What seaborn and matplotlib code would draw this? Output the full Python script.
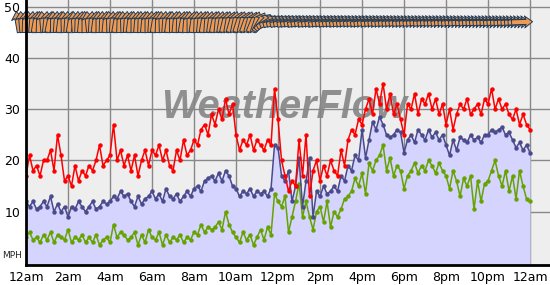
import numpy as np
import pandas as pd
import matplotlib
matplotlib.use("Agg")
import matplotlib.pyplot as plt
import seaborn as sns

# ---- data (10-minute readings, 12am .. 12am) ----
gust = [17, 21, 18, 19, 17, 20,
        20, 22, 18, 25, 21, 16,
        17, 15, 19, 16, 18, 17,
        19, 18, 20, 23, 19, 20,
        21, 27, 20, 22, 19, 21,
        18, 21, 17, 20, 22, 19,
        22, 21, 23, 20, 22, 19,
        18, 22, 20, 24, 21, 22,
        24, 23, 26, 27, 25, 29,
        27, 30, 28, 32, 29, 31,
        25, 22, 24, 23, 25, 22,
        24, 23, 22, 24, 23, 34,
        28, 20, 17, 14, 16, 15,
        24, 17, 25, 13, 18, 20,
        16, 19, 17, 20, 18, 17,
        22, 19, 24, 26, 25, 28,
        27, 30, 32, 29, 34, 31,
        35, 30, 33, 29, 31, 28,
        25, 31, 30, 33, 29, 32,
        31, 33, 30, 32, 29, 31,
        27, 30, 26, 29, 31, 30,
        32, 29, 30, 31, 29, 32,
        31, 34, 30, 32, 30, 31,
        29, 28, 30, 27, 29, 27,
        26]

avg = [12, 11, 12, 10.5, 11, 12,
       11, 13, 10, 11.5, 10, 11,
       9, 11, 10.5, 12, 11, 10,
       11, 12, 10.5, 11, 12, 11.5,
       12, 13, 12.5, 14, 13, 13.5,
       12, 11, 13, 11.5, 12.5, 13,
       14, 12.5, 13.5, 12, 14.5, 13,
       12.5, 13.5, 12, 13, 14, 13,
       14.5, 15, 14, 16, 16.5, 17,
       16, 17.5, 16, 18, 17, 15,
       14.5, 13, 14, 13.5, 14.5, 13,
       14, 13.5, 14, 13, 14.5, 23,
       22.5, 17, 16, 18, 12, 15,
       20.5, 11, 16, 20.5, 9, 14,
       13, 15, 13.5, 14, 15, 14,
       17, 16, 19, 18, 21, 20,
       26, 20.5, 24, 27.5, 26, 28.5,
       27, 25, 24.5, 25, 26, 25.5,
       21.5, 24, 25, 23.5, 26, 25,
       24, 26, 24.5, 25.5, 24, 25,
       23, 21, 24, 22, 24.5, 24,
       23.5, 25, 24, 24.5, 23.5, 25,
       25, 26, 25.5, 26, 26.5, 25,
       25.5, 24, 22.5, 23.5, 22, 23,
       21.5]

lull = [5, 6, 4.5, 5, 4, 5.5,
        4.5, 6, 4, 5.5, 5, 4.5,
        6.5, 4, 5, 4.5, 5.5, 4,
        5, 4, 5.5, 3.5, 4.5, 5,
        4, 7.5, 5, 6, 5.5, 4.5,
        5, 6, 3.5, 5.5, 4, 6.5,
        5, 4.5, 6, 3.5, 5.5, 4,
        5, 4.5, 5.5, 4, 5, 4.5,
        6, 5.5, 7.5, 6, 7, 6.5,
        7, 8, 6.5, 10, 7.5, 6,
        5, 4, 6, 4.5, 5.5, 3.5,
        5, 6.5, 4.5, 7, 5.5, 13.5,
        12, 11, 13, 6, 9, 12,
        15.5, 9, 12, 9, 6.5, 10,
        11, 8, 12, 7, 10, 9,
        10.5, 12.5, 13, 14, 16.5, 15,
        17.5, 13.5, 19.5, 18, 20, 21,
        23, 18, 20.5, 17, 19, 18,
        14.5, 17, 18, 19.5, 17.5, 19,
        18, 20, 19, 17.5, 19.5, 18,
        17, 14.5, 18, 16, 13, 16.5,
        15, 17, 10.5, 16, 12, 15.5,
        16, 18, 20, 17, 15, 18,
        14, 17, 12.5, 18, 15, 12.5,
        12]

# direction the wind arrows point (screen degrees, 0 = right, 90 = up)
wind_angle = [100, 95, 88, 92, 85, 80,
              88, 95, 84, 78, 90, 86,
              82, 92, 86, 80, 94, 88,
              84, 90, 96, 86, 82, 90,
              88, 84, 92, 86, 80, 88,
              92, 86, 82, 90, 85, 88,
              84, 90, 86, 80, 88, 92,
              86, 82, 90, 84, 88, 80,
              85, 90, 82, 88, 84, 80,
              86, 82, 78, 84, 80, 76,
              80, 74, 78, 72, 76, 70,
              74, 68, 72, 60, 45, 30,
              20, 18, 15, 17, 14, 16,
              15, 13, 16, 14, 12, 15,
              14, 12, 15, 13, 12, 14,
              13, 12, 14, 12, 13, 11,
              12, 11, 13, 12, 10, 12,
              11, 10, 12, 11, 10, 11,
              10, 9, 11, 10, 9, 10,
              9, 8, 10, 9, 8, 9,
              8, 9, 7, 8, 9, 7,
              8, 6, 7, 8, 6, 7,
              6, 7, 5, 6, 7, 5,
              5, 6, 4, 5, 4, 3,
              2]

hour_ticks = list(range(0, 25, 2))
hour_labels = ["12am", "2am", "4am", "6am", "8am", "10am", "12pm",
               "2pm", "4pm", "6pm", "8pm", "10pm", "12am"]
y_ticks = [10, 20, 30, 40, 50]

minutes = np.arange(0, 1441, 10)
df = pd.DataFrame({"hour": minutes / 60.0, "gust": gust, "avg": avg, "lull": lull})

sns.set_style("white", {"axes.facecolor": "#eeeeee"})
plt.rcParams["font.family"] = ["DejaVu Sans"]

fig = plt.figure(figsize=(5.5, 2.85), dpi=100)
fig.patch.set_facecolor("white")
ax = fig.add_axes([26 / 550, 20 / 285, 524 / 550, 265 / 285])
ax.set_facecolor("#eeeeee")
ax.set_xlim(0, 24.95)
ax.set_ylim(-0.4, 51.3)

ax.set_axisbelow(True)
ax.grid(True, color="#888888", lw=1.0, zorder=0)

ax.fill_between(df["hour"], df["avg"], -0.4, color="#d4d4ff", lw=0, zorder=1)

ax.text(12.3, 30.4, "WeatherFlow", family=["Liberation Sans", "DejaVu Sans"],
        fontsize=28.5, fontweight="bold", fontstyle="italic", color="#858585",
        alpha=0.9, ha="center", va="center", zorder=2)

sns.lineplot(data=df, x="hour", y="lull", ax=ax, color="#66a300", lw=1.1,
             marker="o", markersize=3.2, markeredgewidth=0, zorder=3)
sns.lineplot(data=df, x="hour", y="avg", ax=ax, color="#4a4a8c", lw=1.1,
             marker="o", markersize=3.2, markeredgewidth=0, zorder=4)
sns.lineplot(data=df, x="hour", y="gust", ax=ax, color="#ff0000", lw=1.1,
             marker="o", markersize=3.2, markeredgewidth=0, zorder=5)

# wind direction arrows along the top
ang = np.deg2rad(np.array(wind_angle, dtype=float))
L = 21.0
q = ax.quiver(df["hour"] - 0.38, np.full(len(df), 47.0),
              L * np.cos(ang), L * np.sin(ang),
              angles="uv", units="dots", scale_units="dots", scale=1,
              pivot="middle", width=5, headwidth=2.4, headlength=1.6,
              headaxislength=1.3, facecolor="#ef9a52", edgecolor="#1d3b5a",
              linewidth=0.7, zorder=6)
q.set_clip_on(False)

ax.set_xticks(hour_ticks)
ax.set_xticklabels(hour_labels)
ax.set_yticks(y_ticks)
ax.tick_params(axis="both", length=0, labelsize=9, colors="black")
ax.tick_params(axis="x", pad=4)
ax.tick_params(axis="y", pad=4)
ax.set_xlabel("")
ax.set_ylabel("")

for s in ["top", "right"]:
    ax.spines[s].set_visible(False)
for s in ["left", "bottom"]:
    ax.spines[s].set_visible(True)
    ax.spines[s].set_color("black")
    ax.spines[s].set_linewidth(2)
    ax.spines[s].set_zorder(7)

fig.text(12 / 550, 1 - 255 / 285, "MPH", fontsize=6.5, ha="center", va="center")

fig.savefig("out.png", dpi=100)
